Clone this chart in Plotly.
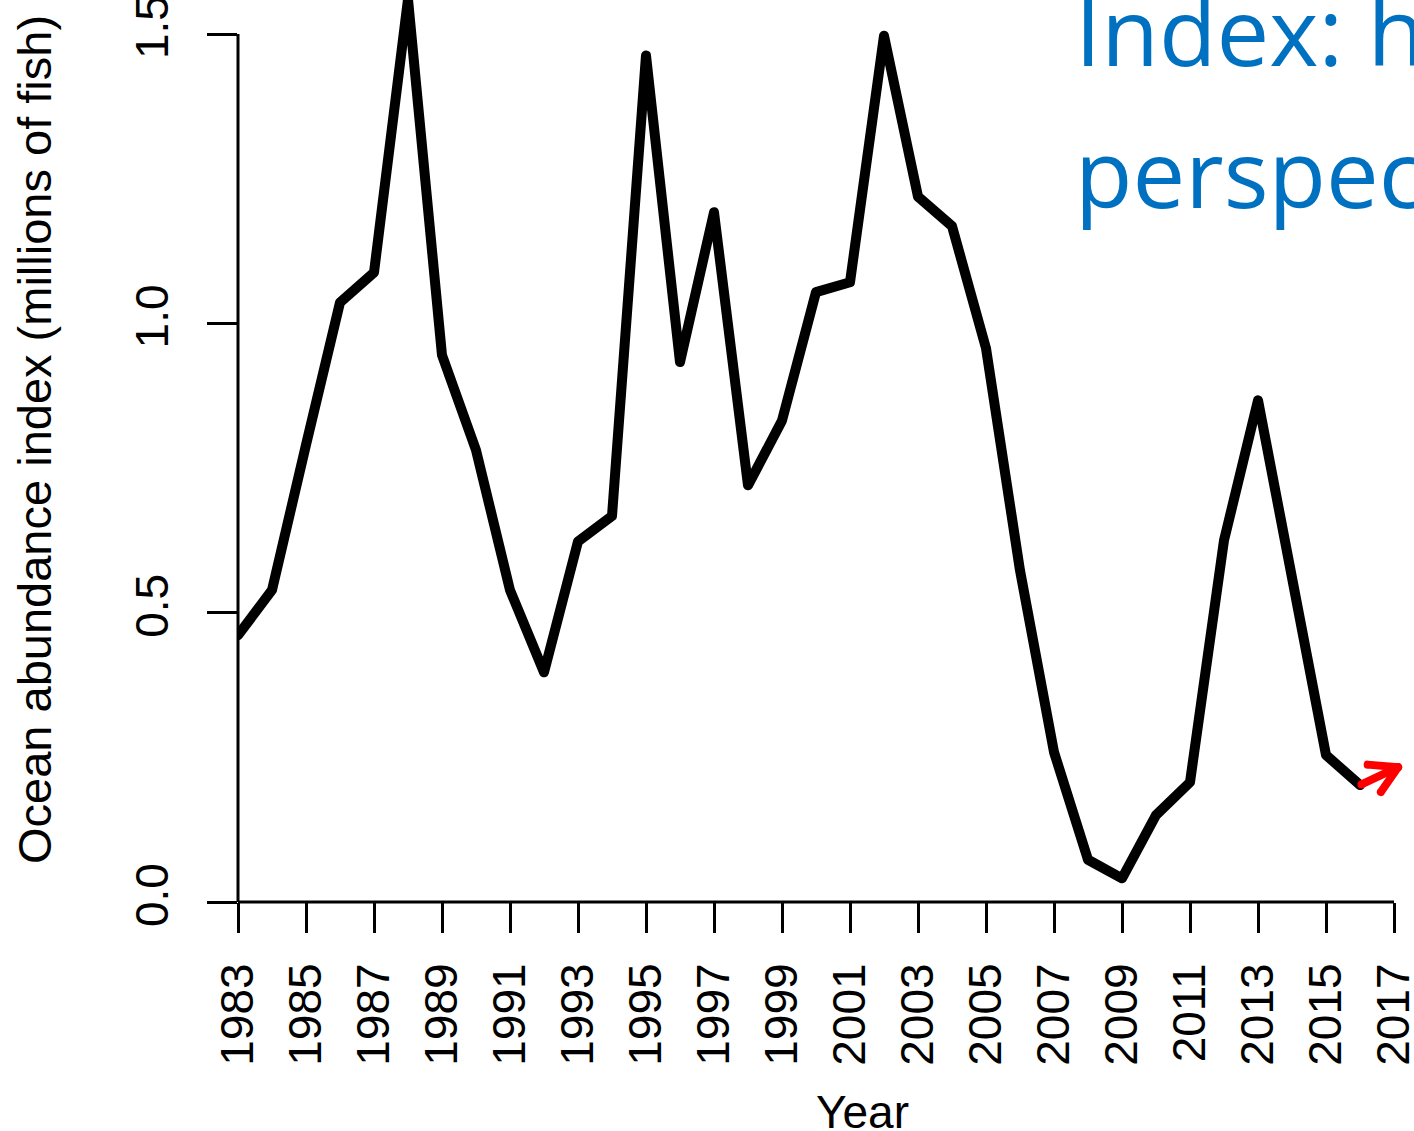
import math
import plotly.graph_objects as go

# ---------------- data ----------------
years = list(range(1983, 2017))
abundance = [0.461, 0.539, 0.790, 1.036, 1.088, 1.560, 0.945, 0.781, 0.539, 0.397,
             0.623, 0.667, 1.463, 0.933, 1.192, 0.720, 0.832, 1.054, 1.071, 1.497,
             1.219, 1.168, 0.957, 0.573, 0.259, 0.073, 0.041, 0.150, 0.207, 0.625,
             0.867, 0.560, 0.254, 0.202]
x_tick_years = list(range(1983, 2018, 2))
x_tick_labels = [str(y) for y in x_tick_years]
y_tick_vals = [0.0, 0.5, 1.0, 1.5]
y_tick_labels = ["0.0", "0.5", "1.0", "1.5"]
arrow_tail = (2016, 0.202)
arrow_tip = (2017.12, 0.233)

# ---------------- layout constants ----------------
W, H = 1414, 1131
ML, MR, MT, MB = 238, 20, 0, 229
X_MIN, X_MAX = 1983, 2017
Y_MIN, Y_MAX = 0.0, 1.5588
PW = W - ML - MR
PH = H - MT - MB
FONT = "Liberation Sans, Arial, sans-serif"
BLUE = "#0070C0"
HEAD_FONT = 94

fig = go.Figure()
fig.add_trace(go.Scatter(
    x=years, y=abundance, mode="lines",
    line=dict(color="black", width=10),
    hoverinfo="skip", showlegend=False,
))

axis_common = dict(
    showgrid=False, zeroline=False, showline=False,
    ticks="outside", ticklen=30, tickwidth=3, tickcolor="black",
    tickangle=-90, tickfont=dict(family=FONT, size=46, color="black"),
    automargin=False, ticklabeloverflow="allow",
)
fig.update_xaxes(range=[X_MIN, X_MAX], tickmode="array",
                 tickvals=x_tick_years, ticktext=x_tick_labels,
                 ticklabelstandoff=12, **axis_common)
fig.update_yaxes(range=[Y_MIN, Y_MAX], tickmode="array",
                 tickvals=y_tick_vals, ticktext=y_tick_labels,
                 ticklabelstandoff=21, **axis_common)

# axis lines (x along 0, y from 0 to 1.5)
fig.add_shape(type="line", xref="paper", yref="paper", x0=0, x1=1, y0=0, y1=0,
              line=dict(color="black", width=3))
fig.add_shape(type="line", xref="paper", yref="paper", x0=0, x1=0, y0=0,
              y1=(1.5 - Y_MIN) / (Y_MAX - Y_MIN), line=dict(color="black", width=3))

# axis titles
fig.add_annotation(text="Ocean abundance index (millions of fish)", textangle=-90,
                   xref="paper", yref="paper", x=(34 - ML) / PW, y=(PH - 440) / PH,
                   xanchor="center", yanchor="middle", showarrow=False,
                   font=dict(family=FONT, size=47, color="black"))
fig.add_annotation(text="Year", xref="paper", yref="paper",
                   x=(862 - ML) / PW, y=(PH - 1112) / PH,
                   xanchor="center", yanchor="middle", showarrow=False,
                   font=dict(family=FONT, size=46, color="black"))

# red arrow: shaft + two head arms
fig.add_annotation(x=arrow_tip[0], y=arrow_tip[1], ax=arrow_tail[0], ay=arrow_tail[1],
                   xref="x", yref="y", axref="x", ayref="y", text="",
                   showarrow=True, arrowhead=0, arrowwidth=8, arrowcolor="red", standoff=0)
tip_px = (arrow_tip[0] - X_MIN) / (X_MAX - X_MIN)
dx_px = (arrow_tip[0] - arrow_tail[0]) * PW / (X_MAX - X_MIN)
dy_px = -(arrow_tip[1] - arrow_tail[1]) * PH / (Y_MAX - Y_MIN)
back = math.atan2(-dy_px, -dx_px)
for s in (-1, 1):
    a = back + s * math.radians(30)
    fig.add_annotation(x=tip_px, y=arrow_tip[1], xref="paper", yref="y",
                       ax=32 * math.cos(a), ay=32 * math.sin(a), text="",
                       showarrow=True, arrowhead=0, arrowwidth=8, arrowcolor="red",
                       standoff=0)

# blue slide heading (cropped at the right edge, as in the reference)
fig.add_annotation(text="Index: historical", xref="paper", yref="paper",
                   x=(1073 - ML) / PW, y=(PH - 30) / PH, xanchor="left", yanchor="middle",
                   showarrow=False, font=dict(family="Open Sans", size=HEAD_FONT, color=BLUE))
fig.add_annotation(text="perspective", xref="paper", yref="paper",
                   x=(1073 - ML) / PW, y=(PH - 172) / PH, xanchor="left", yanchor="middle",
                   showarrow=False, font=dict(family="Open Sans", size=HEAD_FONT, color=BLUE))

fig.update_layout(
    width=W, height=H,
    margin=dict(l=ML, r=MR, t=MT, b=MB, pad=0),
    paper_bgcolor="white", plot_bgcolor="white",
    showlegend=False,
)
post = (
    "document.body.style.margin='0px';"
    "document.body.style.overflow='hidden';"
    "document.querySelectorAll('.scatterlayer path.js-line').forEach(function(p){"
    "p.style.strokeLinejoin='round';p.style.strokeLinecap='round';});"
    "document.querySelectorAll('.annotation-arrow-g path').forEach(function(p){"
    "p.style.strokeLinecap='round';p.style.strokeLinejoin='round';});"
)
fig.write_html("out.html", config={"displayModeBar": False}, post_script=post)
